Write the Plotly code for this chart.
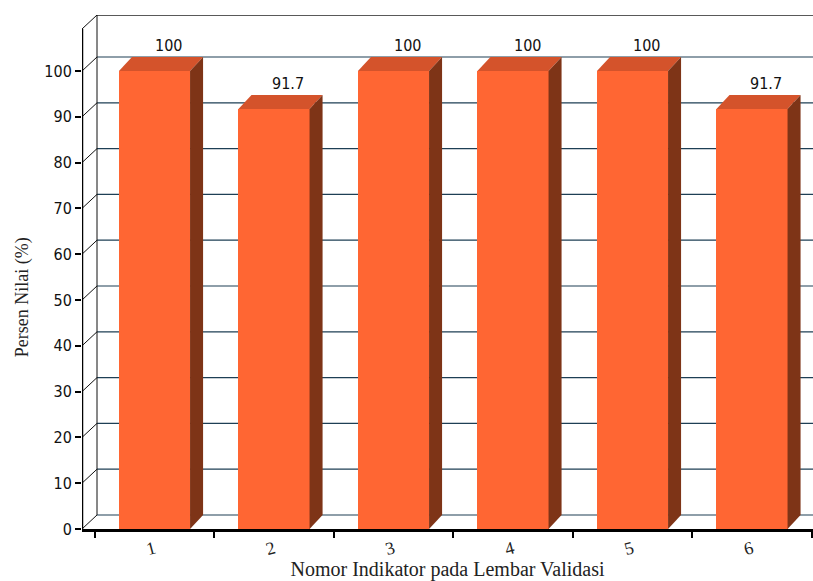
import plotly.graph_objects as go

# ---- data ----
categories = [1, 2, 3, 4, 5, 6]
values = [100, 91.7, 100, 100, 100, 91.7]
value_labels = ["100", "91.7", "100", "100", "100", "91.7"]
y_ticks = [0, 10, 20, 30, 40, 50, 60, 70, 80, 90, 100]

# ---- geometry (in data units) ----
X0, X1 = 0.3933, 6.5105          # x range of front plane
YTOP = 109.17                     # top of front axis
WDX, WDY = 0.1255, 3.06           # back wall depth offset
BDX, BDY = 0.109, 3.06            # bar depth offset
BW = 0.595                        # bar width

FRONT = "#FF6633"
TOP = "#D4532B"
SIDE = "#7E3417"
GRID = "#1E3F55"
NUMFONT = "DejaVu Sans Condensed, Liberation Sans Narrow, Liberation Sans, sans-serif"
SERIF = "Liberation Serif, serif"

fig = go.Figure()

# front faces
fig.add_trace(go.Bar(x=categories, y=values, width=BW, marker=dict(color=FRONT, line=dict(width=0)),
                     hoverinfo="skip", showlegend=False))

# top and side faces
for c, v in zip(categories, values):
    l, r = c - BW / 2, c + BW / 2
    fig.add_trace(go.Scatter(x=[l, r, r + BDX, l + BDX, l], y=[v, v, v + BDY, v + BDY, v],
                             fill="toself", fillcolor=TOP, mode="lines", line=dict(width=0),
                             hoverinfo="skip", showlegend=False))
    fig.add_trace(go.Scatter(x=[r, r + BDX, r + BDX, r, r], y=[0, BDY, v + BDY, v, 0],
                             fill="toself", fillcolor=SIDE, mode="lines", line=dict(width=0),
                             hoverinfo="skip", showlegend=False))

shapes = []
# back wall gridlines and left-wall diagonals
for t in y_ticks:
    shapes.append(dict(type="line", xref="x", yref="y", x0=X0 + WDX, y0=t + WDY, x1=X1 + 1, y1=t + WDY,
                       line=dict(color=GRID, width=1.2), layer="below"))
    shapes.append(dict(type="line", xref="x", yref="y", x0=X0, y0=t, x1=X0 + WDX, y1=t + WDY,
                       line=dict(color="#111111", width=1), layer="below"))
# back wall frame
shapes.append(dict(type="line", xref="x", yref="y", x0=X0 + WDX, y0=YTOP + WDY, x1=X1 + 1, y1=YTOP + WDY,
                   line=dict(color="#222222", width=1.5), layer="below"))
shapes.append(dict(type="line", xref="x", yref="y", x0=X0, y0=YTOP, x1=X0 + WDX, y1=YTOP + WDY,
                   line=dict(color="#111111", width=1), layer="below"))
shapes.append(dict(type="line", xref="x", yref="y", x0=X0 + WDX, y0=WDY, x1=X0 + WDX, y1=YTOP + WDY,
                   line=dict(color="#111111", width=1), layer="below"))
# front vertical axis line
shapes.append(dict(type="line", xref="x", yref="y", x0=X0, y0=0, x1=X0, y1=YTOP,
                   line=dict(color="#000000", width=2.5)))

annotations = []
for c, v, s in zip(categories, values, value_labels):
    annotations.append(dict(x=c + 0.12, y=v + BDY, xref="x", yref="y", text=s, showarrow=False,
                            yshift=12, font=dict(family=NUMFONT, size=16, color="#111111")))

# y axis title
annotations.append(dict(x=0, y=0.451, xref="paper", yref="paper", xshift=-60, text="Persen Nilai (%)",
                        textangle=-90, showarrow=False, xanchor="center", yanchor="middle",
                        font=dict(family=SERIF, size=18, color="#222222")))

fig.update_layout(
    width=813, height=581,
    margin=dict(l=82, r=0, t=15, b=52),
    paper_bgcolor="white", plot_bgcolor="white",
    shapes=shapes, annotations=annotations,
    xaxis=dict(range=[X0, X1], tickvals=categories, ticktext=[str(c) for c in categories],
               tickangle=-15, ticks="", showgrid=False, zeroline=False,
               showline=True, linecolor="black", linewidth=2.5,
               minor=dict(tickvals=[0.5, 1.5, 2.5, 3.5, 4.5, 5.5, 6.5], ticks="outside", ticklen=6,
                          tickcolor="black", tickwidth=1.5, showgrid=False),
               tickfont=dict(family=SERIF, size=18, color="#222222"),
               title=dict(text="Nomor Indikator pada Lembar Validasi", standoff=6,
                          font=dict(family=SERIF, size=20, color="#222222"))),
    yaxis=dict(range=[0, YTOP + WDY], tickvals=y_ticks, ticks="outside", ticklen=6,
               tickcolor="black", tickwidth=1.5, showgrid=False, zeroline=False, showline=False,
               tickfont=dict(family=NUMFONT, size=16, color="#111111")),
    bargap=0,
)

fig.write_html("out.html")
